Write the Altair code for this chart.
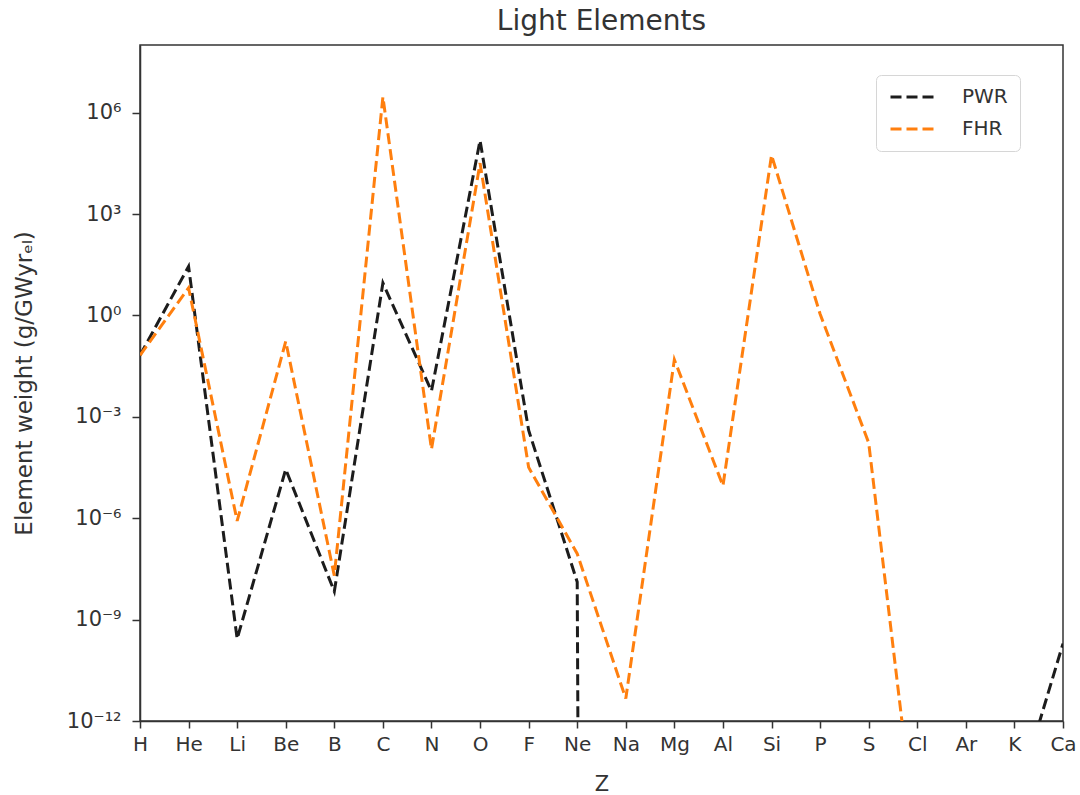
import json
import altair as alt
import pandas as pd

# ---- data ----
elements = ["H", "He", "Li", "Be", "B", "C", "N", "O", "F", "Ne",
            "Na", "Mg", "Al", "Si", "P", "S", "Cl", "Ar", "K", "Ca"]
# element weight, g/GWyr_el (0 = none; drawn at the log-scale floor like matplotlib's clip)
pwr_weight = [6.6e-2, 2.8e1, 2.7e-10, 2.8e-5, 6.8e-9, 9.1e0, 5.8e-3, 1.5e5, 4.0e-4, 1.3e-8,
              0, 0, 0, 0, 0, 0, 0, 0, 3.2e-15, 1.95e-10]
fhr_weight = [6.6e-2, 6.5e0, 8.3e-7, 1.7e-1, 2.0e-8, 2.9e6, 1.1e-4, 3.2e4, 3.2e-5, 8.9e-8,
              4.6e-12, 4.9e-2, 9.1e-6, 5.5e4, 1.1e0, 1.7e-4, 1.6e-16, 0, 0, 0]
series_names = ["PWR", "FHR"]
series_colors = ["#1c1c1c", "#ff7f0e"]
y_tick_values = [1e-12, 1e-9, 1e-6, 1e-3, 1e0, 1e3, 1e6]
y_tick_labels = ["10⁻¹²", "10⁻⁹", "10⁻⁶", "10⁻³", "10⁰", "10³", "10⁶"]
LOG_FLOOR = 1e-300

rows = []
for name, vals in zip(series_names, [pwr_weight, fhr_weight]):
    for i, (el, v) in enumerate(zip(elements, vals)):
        rows.append({"series": name, "element": el, "idx": i,
                     "weight": v if v > 0 else LOG_FLOOR})
df = pd.DataFrame(rows)

label_expr = (json.dumps(y_tick_labels, ensure_ascii=False)
              + "[round((log(datum.value)/LN10 + 12)/3)]")

FONT = "DejaVu Sans"
TXT = "#333333"

chart = alt.Chart(df).mark_line(
    strokeDash=[11, 5], strokeWidth=3, clip=True
).encode(
    x=alt.X("element:N", sort=elements,
            scale=alt.Scale(type="point", padding=0),
            axis=alt.Axis(title="Z", labelAngle=0, tickSize=7, labelPadding=6,
                          labelFontSize=20, titleFontSize=21, titleFontWeight="normal",
                          titleY=69, titleBaseline="alphabetic")),
    y=alt.Y("weight:Q",
            scale=alt.Scale(type="log", domain=[1e-12, 1e8], nice=False),
            axis=alt.Axis(values=y_tick_values, labelExpr=label_expr,
                          title="Element weight (g/GWyrₑₗ)", tickSize=8, labelPadding=11,
                          labelFontSize=21, labelBaseline="middle",
                          titleFontSize=23, titleFontWeight="normal",
                          titleX=-116, titleY=338, titleAngle=270,
                          titleBaseline="middle", titleAlign="center")),
    color=alt.Color("series:N",
                    scale=alt.Scale(domain=series_names, range=series_colors),
                    legend=alt.Legend(title=None, orient="none", legendX=736, legendY=30,
                                      symbolType="M-1,0H5", symbolSize=225,
                                      symbolStrokeWidth=3, symbolDash=[11, 5],
                                      symbolFillColor="transparent",
                                      labelFontSize=20, labelFont=FONT, labelColor=TXT,
                                      labelOffset=54, rowPadding=12, padding=12,
                                      strokeColor="#d6d6d6", cornerRadius=5,
                                      fillColor="white")),
    order=alt.Order("idx:Q"),
).properties(
    width=923, height=676,
    title=alt.TitleParams("Light Elements", fontSize=28, font=FONT, fontWeight="normal",
                          color=TXT, anchor="middle", frame="group",
                          baseline="alphabetic", offset=15, dy=28),
    autosize=alt.AutoSizeParams(type="none"),
    padding={"left": 140, "top": 45, "right": 17, "bottom": 74},
).configure_axis(
    labelFont=FONT, titleFont=FONT, labelColor=TXT, titleColor=TXT,
    domainColor="#333333", domainWidth=1.5, tickColor="#333333", tickWidth=1.5,
    grid=False,
).configure_view(
    stroke="#333333", strokeWidth=1.5,
)

chart.save("out.html", embed_options={"renderer": "svg", "actions": False})
